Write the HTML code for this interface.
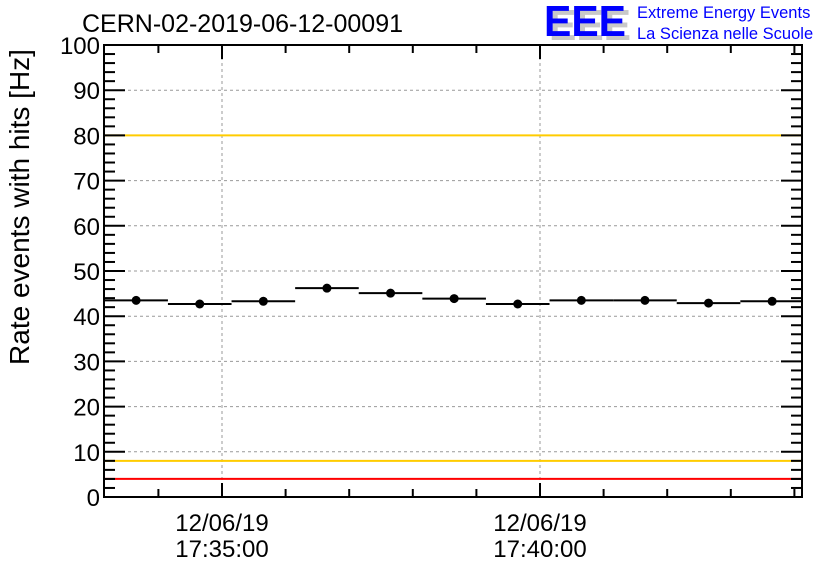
<!DOCTYPE html>
<html><head><meta charset="utf-8"><style>
body{margin:0;background:#fff;}
svg{display:block;font-family:"Liberation Sans",sans-serif;}
</style></head><body>
<svg id="chart" width="836" height="572" viewBox="0 0 836 572">
<rect width="836" height="572" fill="#fff"/>
<defs><clipPath id="pc"><rect x="104" y="45" width="698" height="452"/></clipPath></defs>
<text x="82" y="32" font-size="25" fill="#000">CERN-02-2019-06-12-00091</text>
<g>
<text x="549" y="40" font-size="44" font-weight="bold" fill="#c8c8c8" textLength="82" lengthAdjust="spacingAndGlyphs">EEE</text>
<text x="544" y="36" font-size="44" font-weight="bold" fill="#0000ff" textLength="82" lengthAdjust="spacingAndGlyphs">EEE</text>
<text x="637" y="18" font-size="16.5" fill="#0000ff">Extreme Energy Events</text>
<text x="637" y="39" font-size="16.5" fill="#0000ff">La Scienza nelle Scuole</text>
</g>
<g id="grid"></g><g id="axes"></g><g id="marks" clip-path="url(#pc)"></g>
<text transform="translate(29,207) rotate(-90)" text-anchor="middle" font-size="28">Rate events with hits [Hz]</text>
</svg>
<script>
const times=[-1.35,-0.35,0.65,1.65,2.65,3.65,4.65,5.65,6.65,7.65,8.65]; // minutes from 17:35
const values=[43.5,42.7,43.3,46.2,45.1,43.9,42.7,43.5,43.5,42.9,43.3];
const yTicks=[0,10,20,30,40,50,60,70,80,90,100];
const xMajor=[0,5];
const xLabels=["12/06/19|17:35:00","12/06/19|17:40:00"];
const redLimits=[4,100];
const yellowLimits=[8,80];
const L=104,R=802,T=45,B=497,X0=222,PXM=63.6;
const xs=m=>X0+m*PXM, ys=v=>B-(v-0)*(B-T)/100;
const NS="http://www.w3.org/2000/svg";
function mk(p,t,a){const e=document.createElementNS(NS,t);for(const k in a)e.setAttribute(k,a[k]);document.getElementById(p).appendChild(e);return e;}
yTicks.slice(1,-1).forEach(v=>{const e=mk('grid','line',{x1:L,x2:R,y1:ys(v),y2:ys(v),stroke:'#999','stroke-dasharray':'3,3'});

});
xMajor.forEach(m=>{const e=mk('grid','line',{x1:xs(m),x2:xs(m),y1:T,y2:B,stroke:'#999','stroke-dasharray':'3,3'});

});
redLimits.forEach(v=>{const e=mk('grid','line',{x1:L,x2:R,y1:ys(v),y2:ys(v),stroke:'#ff0000','stroke-width':2});

});
yellowLimits.forEach(v=>{const e=mk('grid','line',{x1:L,x2:R,y1:ys(v),y2:ys(v),stroke:'#ffcc00','stroke-width':2});

});
const f=mk('axes','rect',{x:L,y:T,width:R-L,height:B-T,fill:'none',stroke:'#000','stroke-width':2});


for(let v=0;v<=100;v+=2){const maj=v%10===0;const len=maj?21:11;
mk('axes','line',{x1:L,x2:L+len,y1:ys(v),y2:ys(v),stroke:'#000','stroke-width':2});
mk('axes','line',{x1:R,x2:R-len,y1:ys(v),y2:ys(v),stroke:'#000','stroke-width':2});}
yTicks.forEach(v=>{const t=mk('axes','text',{x:L-4,y:ys(v)+9,'text-anchor':'end','font-size':24});t.textContent=v;

});
for(let m=-1;m<=9;m++){const x=xs(m);if(x<L||x>R)continue;const maj=m%5===0;const len=maj?14:8;
mk('axes','line',{x1:x,x2:x,y1:B,y2:B-len,stroke:'#000','stroke-width':2});
mk('axes','line',{x1:x,x2:x,y1:T,y2:T+len,stroke:'#000','stroke-width':2});}
xMajor.forEach((m,i)=>{const p=xLabels[i].split('|');p.forEach((s,j)=>{const t=mk('axes','text',{x:xs(m),y:531+j*26,'text-anchor':'middle','font-size':24});t.textContent=s;

});});
times.forEach((m,i)=>{const y=ys(values[i]);
const l=mk('marks','line',{x1:xs(m-0.5),x2:xs(m+0.5),y1:y,y2:y,stroke:'#000','stroke-width':2});


const c=mk('marks','circle',{cx:xs(m),cy:y,r:4.5,fill:'#000'});

});
</script>
</body></html>
